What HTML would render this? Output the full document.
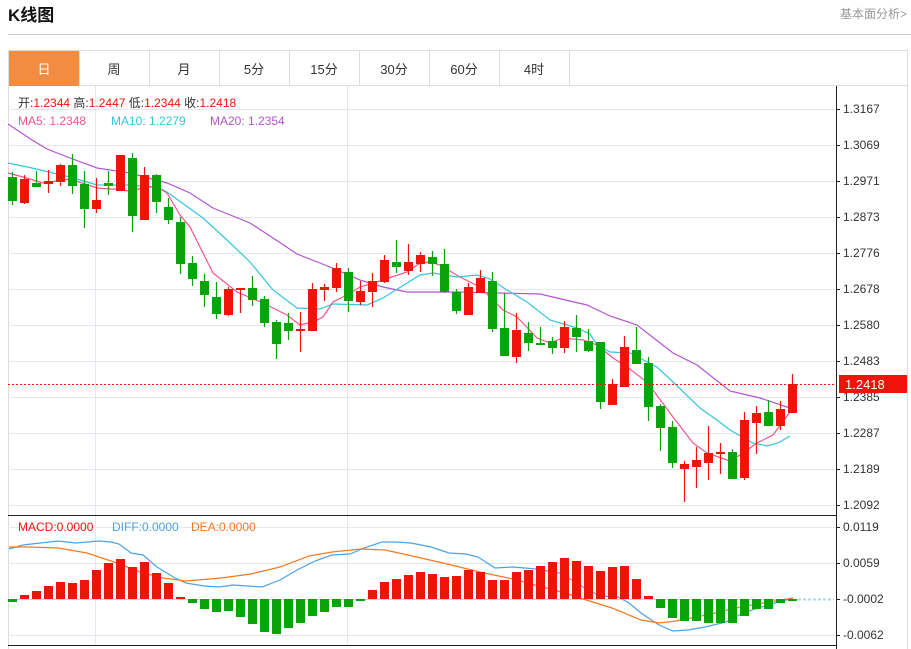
<!DOCTYPE html>
<html><head><meta charset="utf-8"><style>
html,body{margin:0;padding:0;background:#fff;width:911px;height:649px;overflow:hidden;font-family:"Liberation Sans","Noto Sans CJK SC",sans-serif}
svg text{font-family:"Liberation Sans","Noto Sans CJK SC",sans-serif}
</style></head><body>
<svg id="s" width="911" height="649" xmlns="http://www.w3.org/2000/svg">
<text x="8" y="21" font-size="17" font-weight="bold" fill="#111">K线图</text>
<text x="907" y="18" font-size="12" fill="#999" text-anchor="end">基本面分析&gt;</text>
<line x1="8" y1="34.5" x2="911" y2="34.5" stroke="#ccc" stroke-width="1"/>
<rect x="8.5" y="50.5" width="899" height="35" fill="#fff" stroke="#ddd"/>
<rect x="9" y="51" width="70" height="35" fill="#f28c40"/>
<g stroke="#ddd"><line x1="79.5" y1="51" x2="79.5" y2="86"/><line x1="149.5" y1="51" x2="149.5" y2="86"/><line x1="219.5" y1="51" x2="219.5" y2="86"/><line x1="289.5" y1="51" x2="289.5" y2="86"/><line x1="359.5" y1="51" x2="359.5" y2="86"/><line x1="429.5" y1="51" x2="429.5" y2="86"/><line x1="499.5" y1="51" x2="499.5" y2="86"/><line x1="569.5" y1="51" x2="569.5" y2="86"/></g>
<g font-size="13" text-anchor="middle" fill="#333"><text x="44" y="74" fill="#fff">日</text><text x="114" y="74">周</text><text x="184" y="74">月</text><text x="254" y="74">5分</text><text x="324" y="74">15分</text><text x="394" y="74">30分</text><text x="464" y="74">60分</text><text x="534" y="74">4时</text></g>
<line x1="8.5" y1="86" x2="8.5" y2="649" stroke="#ddd"/>
<line x1="907.5" y1="86" x2="907.5" y2="649" stroke="#ddd"/>
<g id="grid" stroke="#e3e8ee" stroke-width="1"></g>
<g id="ma"></g>
<g id="cd"></g>
<line x1="836.5" y1="86" x2="836.5" y2="649" stroke="#222"/>
<line x1="8" y1="515.5" x2="836" y2="515.5" stroke="#222"/>
<line x1="8" y1="645.5" x2="836" y2="645.5" stroke="#222"/>
<g id="ticks" font-size="12" fill="#333"></g>
<line x1="8" y1="384.5" x2="836" y2="384.5" stroke="#f01408" stroke-dasharray="2,2"/>
<rect x="839" y="375" width="68" height="18" fill="#f01408"/>
<text x="845" y="389" font-size="13" fill="#fff">1.2418</text>
<g font-size="12"><text x="18" y="107" fill="#333">开:<tspan fill="#f01408">1.2344</tspan>  高:<tspan fill="#f01408">1.2447</tspan>  低:<tspan fill="#f01408">1.2344</tspan>  收:<tspan fill="#f01408">1.2418</tspan></text>
<text x="18" y="125" fill="#f0578a">MA5: 1.2348</text><text x="111" y="125" fill="#35c5dd">MA10: 1.2279</text><text x="210" y="125" fill="#b455d0">MA20: 1.2354</text>
<text x="18" y="531" fill="#f01408">MACD:0.0000</text><text x="112" y="531" fill="#4aa3e8">DIFF:0.0000</text><text x="191" y="531" fill="#f47a20">DEA:0.0000</text></g>
</svg>
<script>
var NS="http://www.w3.org/2000/svg";
function el(p,t,a){var e=document.createElementNS(NS,t);for(var k in a)e.setAttribute(k,a[k]);p.appendChild(e);return e;}
var g=document.getElementById('grid'),tk=document.getElementById('ticks');
var ml=[[109,"1.3167"],[145,"1.3069"],[181,"1.2971"],[217,"1.2873"],[253,"1.2776"],[289,"1.2678"],[325,"1.2580"],[361,"1.2483"],[397,"1.2385"],[433,"1.2287"],[469,"1.2189"],[505,"1.2092"]];
ml.forEach(function(m){el(g,'line',{x1:8,y1:m[0]+.5,x2:836,y2:m[0]+.5});el(tk,'line',{x1:836,y1:m[0]+.5,x2:840,y2:m[0]+.5,stroke:'#222'});var t=el(tk,'text',{x:843,y:m[0]+4});t.textContent=m[1];});
var mc=[[527,"0.0119"],[563,"0.0059"],[635,"-0.0062"]];
mc.forEach(function(m){el(g,'line',{x1:8,y1:m[0]+.5,x2:836,y2:m[0]+.5});el(tk,'line',{x1:836,y1:m[0]+.5,x2:840,y2:m[0]+.5,stroke:'#222'});var t=el(tk,'text',{x:843,y:m[0]+4});t.textContent=m[1];});
el(tk,'line',{x1:836,y1:599.5,x2:840,y2:599.5,stroke:'#222'});var t0=el(tk,'text',{x:843,y:603});t0.textContent="-0.0002";
el(g,'line',{x1:95.5,y1:86,x2:95.5,y2:645});el(g,'line',{x1:347.5,y1:86,x2:347.5,y2:645});
el(g,'line',{x1:8,y1:599.5,x2:798,y2:599.5,stroke:'#c8d4e0'});
el(g,'line',{x1:798,y1:599.5,x2:834,y2:599.5,stroke:'#a8d8f0','stroke-dasharray':'3,2','stroke-width':2});
// candles: [color, bodyTop, bodyBot, wickTop, wickBot]
var C=[["g",177,201,172,205],["r",179,203,175,204],["g",183,187,171,187],["r",181,184,170,193],["r",165,182,164,186],["g",165,186,154,194],["g",184,209,171,228],["r",200,209,178,213],["g",183,186,171,195],["r",155,191,155,191],["g",158,216,153,232],["r",175,220,167,220],["g",175,202,174,213],["g",207,220,198,224],["g",222,264,217,274],["g",263,279,256,286],["g",281,295,274,307],["g",297,314,282,319],["r",289,315,287,316],["r",288,290,288,313],["g",288,300,276,306],["g",299,323,296,327],["g",322,344,320,359],["g",323,331,313,340],["r",329,331,312,352],["r",289,331,283,331],["r",287,290,284,301],["r",268,288,263,292],["g",272,301,268,312],["r",291,302,281,305],["r",281,292,273,307],["r",260,282,255,283],["g",262,267,240,273],["r",262,271,244,275],["r",255,264,252,272],["g",257,264,251,276],["g",264,292,249,293],["g",292,311,289,314],["r",287,315,283,315],["r",278,293,270,293],["g",281,329,272,332],["g",328,356,293,356],["r",330,357,313,363],["g",333,343,322,351],["g",343,345,327,345],["g",341,348,337,354],["r",327,348,321,353],["g",328,337,315,352],["g",341,351,329,352],["g",342,402,342,409],["r",384,405,379,405],["r",347,387,336,387],["g",350,364,327,364],["g",363,407,357,421],["g",406,428,404,451],["g",427,463,421,468],["r",464,469,461,502],["r",460,467,447,488],["r",453,463,426,480],["r",452,454,443,474],["g",452,479,449,479],["r",420,478,412,480],["r",413,423,406,454],["g",412,426,400,426],["r",409,426,401,430],["r",384,413,374,413]];
var cd=document.getElementById('cd');var RED="#f01408",GRN="#0aa30a";
C.forEach(function(c,i){var x=12+i*12,col=c[0]=="r"?RED:GRN;el(cd,'line',{x1:x+.5,y1:c[3],x2:x+.5,y2:c[4],stroke:col,'stroke-width':1.2});el(cd,'rect',{x:x-4,y:c[1],width:9,height:Math.max(2,c[2]-c[1]),fill:col});});
var H=[599,595,591,586,582,583,580,570,563,559,567,562,573,583,597,603,609,612,611,617,624,632,634,628,623,616,612,607,607,601,590,582,579,575,572,574,577,576,570,572,580,580,572,570,566,562,558,561,566,571,567,566,579,596,608,618,621,621,623,623,623,616,609,609,603,600];
H.forEach(function(h,i){var x=12+i*12;var col=h>=599?GRN:RED;if(i==0)col=GRN;if(i==29)col=GRN;var y0=599,y1=h;if(i==0){y1=602;}var top=Math.min(y0,y1),bh=Math.max(2,Math.abs(y1-y0));el(cd,'rect',{x:x-4,y:top,width:9,height:bh,fill:col});});
function pl(pts,col){el(document.getElementById('ma'),'polyline',{points:pts.map(function(p){return p.join(',')}).join(' '),fill:'none',stroke:col,'stroke-width':1.2});}
pl([[8,124],[32,140],[47,149],[70,158],[97,168],[130,173],[167,183],[190,193],[213,208],[250,223],[273,238],[297,254],[330,267],[360,280],[383,287],[407,292],[460,292],[540,294],[587,305],[610,316],[637,325],[673,353],[697,365],[730,391],[760,398],[790,408]],"#b455d0");
pl([[8,163],[32,168],[70,177],[97,185],[127,185],[157,187],[167,192],[203,218],[227,240],[250,262],[273,290],[297,308],[320,309],[333,304],[367,305],[383,298],[420,275],[433,273],[457,277],[477,275],[490,279],[507,290],[527,302],[550,320],[577,328],[590,334],[597,345],[610,352],[630,353],[657,367],[673,382],[700,408],[717,420],[730,430],[753,443],[767,446],[778,443],[790,436]],"#35c5dd");
pl([[8,173],[23,177],[43,183],[70,179],[97,188],[110,189],[120,189],[132,192],[143,187],[157,187],[167,193],[180,215],[190,227],[213,273],[237,292],[263,303],[287,315],[300,325],[313,322],[323,317],[333,302],[347,295],[360,287],[383,280],[407,272],[420,263],[430,262],[440,265],[460,277],[480,287],[503,310],[517,317],[537,338],[550,343],[563,338],[583,340],[597,345],[613,358],[627,367],[647,382],[673,417],[693,443],[707,453],[730,461],[740,455],[757,443],[773,435],[790,412]],"#f0578a");
pl([[9,549],[23,545],[58,541],[76,543],[99,541],[111,542],[119,544],[131,553],[143,555],[157,567],[175,578],[186,583],[204,586],[219,587],[233,585],[262,587],[280,580],[297,570],[315,561],[332,555],[350,554],[364,548],[382,542],[396,542],[411,543],[431,547],[449,553],[466,554],[478,557],[495,568],[513,567],[536,569],[559,573],[574,581],[583,587],[600,596],[618,597],[629,603],[641,613],[659,625],[673,631],[688,630],[705,627],[726,622],[743,613],[758,608],[775,603],[793,598]],"#4aa3e8");
pl([[9,547],[29,547],[58,548],[87,553],[117,563],[140,572],[163,578],[186,581],[221,578],[251,574],[280,567],[309,556],[332,552],[361,549],[385,550],[408,555],[443,563],[484,573],[513,579],[542,587],[565,593],[583,599],[612,608],[641,620],[659,623],[676,621],[711,614],[740,607],[769,602],[793,598]],"#f47a20");
</script>
</body></html>
